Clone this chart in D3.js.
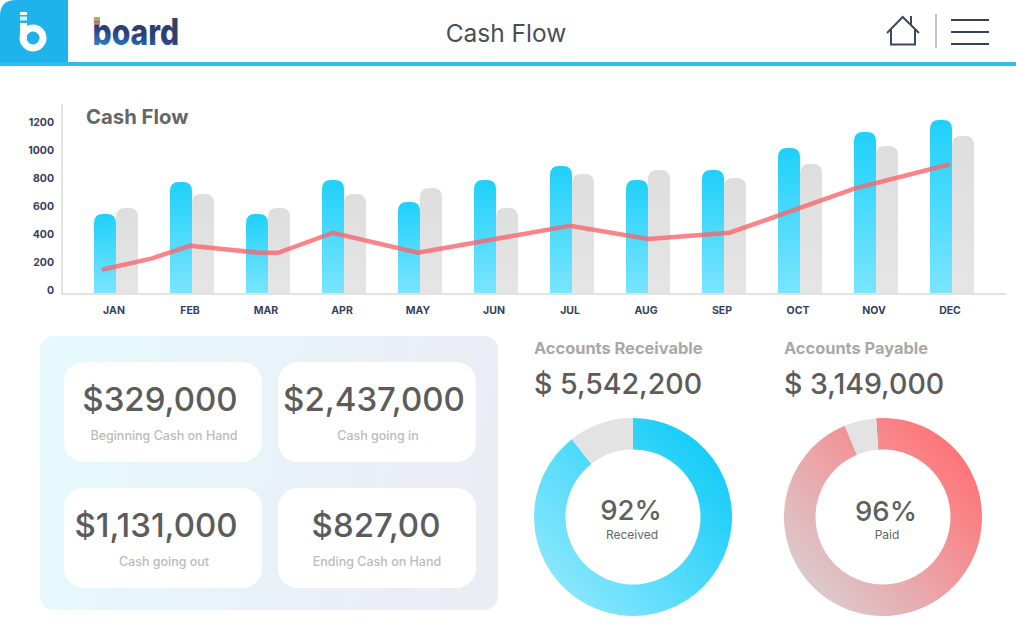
<!DOCTYPE html>
<html>
<head>
<meta charset="utf-8">
<script src="https://cdn.jsdelivr.net/npm/d3@7"></script>
<style>
body {margin:0; background:#fff; overflow:hidden;}
text {font-family:Inter, "Noto Sans", sans-serif;}
</style>
</head>
<body>
<svg id="chart" width="1016" height="636"></svg>
<script>
var months = ["JAN","FEB","MAR","APR","MAY","JUN","JUL","AUG","SEP","OCT","NOV","DEC"]
var cashIn = [543,771,543,786,629,786,886,786,857,1014,1129,1214]
var cashOut = [586,686,586,686,729,586,829,857,800,900,1029,1100]
var yTicks = [0,200,400,600,800,1000,1200]
// line does not sit on the month centres, so it keeps its own month positions
var linePos = [-0.16,0.5,1,1.92,2.16,2.88,4,6,7.03,8.1,9.75,11]
var lineVal = [145,226,316,266,266,409,266,459,364,409,726,898]

var cardValues = ["$329,000","$2,437,000","$1,131,000","$827,00"]
var cardLabels = ["Beginning Cash on Hand","Cash going in","Cash going out","Ending Cash on Hand"]
var cardCols = [0,1,0,1]
var cardRows = [0,0,1,1]
var cardValueShift = [-3,-3,-7,-1]
var cardLabelShift = [1,1,1,0]

var receivedShares = [89.4,10.6]
var paidShares = [94.8,5.2]

var svg = d3.select("#chart")
var defs = svg.append("defs")

var gradient = function(id, x1, y1, x2, y2, c1, c2, units)
{
    defs.append("linearGradient")
        .attr("id", id)
        .attr("gradientUnits", units || "objectBoundingBox")
        .attr("x1", x1).attr("y1", y1).attr("x2", x2).attr("y2", y2)
        .selectAll("stop").data([c1, c2]).enter().append("stop")
        .attr("offset", function(d, i) { return i })
        .attr("stop-color", function(d) { return d })
}
gradient("blueBar", 0, 0, 0, 1, "#1fd0fa", "#7be5fe")
gradient("grayBar", 0, 0, 0, 1, "#dedede", "#e5e5e5")
gradient("panelBg", 0, 0, 1, 0.15, "#e5fafe", "#ececf5")

var logoStops = [[0,"#25b4ea"],[0.3,"#2a6db0"],[0.55,"#2a3f7e"],[1,"#36415c"]]
defs.append("linearGradient").attr("id", "logoFill")
    .attr("x1", 0).attr("y1", 1).attr("x2", 0.32).attr("y2", 0)
    .selectAll("stop").data(logoStops).enter().append("stop")
    .attr("offset", function(d) { return d[0] })
    .attr("stop-color", function(d) { return d[1] })

// ---- header
var drawHeader = function()
{
    svg.append("path")
        .attr("d", "M0,62V16Q0,0,16,0H68V62Z")
        .attr("fill", "#1eb3eb")
    svg.append("rect").attr("x", 0).attr("y", 62).attr("width", 1016).attr("height", 4).attr("fill", "#2dbcef")

    var icon = svg.append("g").attr("fill", "#fff")
    icon.append("rect").attr("x", 20).attr("y", 12).attr("width", 7).attr("height", 3)
    icon.append("rect").attr("x", 20).attr("y", 16.5).attr("width", 7).attr("height", 4).attr("opacity", 0.85)
    icon.append("rect").attr("x", 20).attr("y", 23).attr("width", 7).attr("height", 16)
    icon.append("circle").attr("cx", 33).attr("cy", 38).attr("r", 10)
        .attr("fill", "none").attr("stroke", "#fff").attr("stroke-width", 7)

    svg.append("text").attr("transform", "translate(92.5,45) scale(1,1.22)")
        .attr("font-size", 30).attr("font-weight", 800).attr("fill", "url(#logoFill)")
        .text("board")
    var stripes = ["#7cc576","#f5a623","#ef5a5a","#9aa0b0"]
    svg.append("g").selectAll("rect").data(stripes).enter().append("rect")
        .attr("x", 94).attr("width", 6).attr("height", 1.9)
        .attr("y", function(d, i) { return 17 + i * 1.9 })
        .attr("fill", function(d) { return d })

    svg.append("text").attr("x", 506).attr("y", 42).attr("text-anchor", "middle")
        .attr("font-size", 24.5).attr("fill", "#4a4f58").text("Cash Flow")

    svg.append("path")
        .attr("d", "M887,33L902.7,17L919,33M891,29V44.5H915V29M911,25V16")
        .attr("fill", "none").attr("stroke", "#3b4a63").attr("stroke-width", 2)
    svg.append("line").attr("x1", 936).attr("x2", 936).attr("y1", 14).attr("y2", 48)
        .attr("stroke", "#c8c8c8").attr("stroke-width", 2)
    svg.append("g").selectAll("line").data([20,32,44]).enter().append("line")
        .attr("x1", 951).attr("x2", 989)
        .attr("y1", function(d) { return d }).attr("y2", function(d) { return d })
        .attr("stroke", "#36415c").attr("stroke-width", 2)
}

// ---- bar + line chart
var drawCashFlow = function()
{
    var baseline = 294
    var xScale = d3.scaleBand().domain(months).range([78, 990])
    var inner = d3.scaleBand().domain(["in","out"]).range([16, 60])
    var yScale = d3.scaleLinear().domain([0, 1200]).range([290, 122])
    var posScale = d3.scaleLinear().domain([0, 11]).range([114, 950])

    var barPath = function(x, w, top)
    {
        var r = 9
        var p = d3.path()
        p.moveTo(x, baseline)
        p.lineTo(x, top + r)
        p.quadraticCurveTo(x, top, x + r, top)
        p.lineTo(x + w - r, top)
        p.quadraticCurveTo(x + w, top, x + w, top + r)
        p.lineTo(x + w, baseline)
        p.closePath()
        return p.toString()
    }

    var series = [
        {key:"in", values:cashIn, fill:"url(#blueBar)"},
        {key:"out", values:cashOut, fill:"url(#grayBar)"}
    ]
    series.forEach(function(s)
    {
        svg.append("g").selectAll("path").data(s.values).enter().append("path")
            .attr("d", function(d, i) { return barPath(xScale(months[i]) + inner(s.key), inner.bandwidth(), yScale(d)) })
            .attr("fill", s.fill)
    })

    svg.append("line").attr("x1", 62).attr("x2", 62).attr("y1", 104).attr("y2", baseline)
        .attr("stroke", "#e2e2e2").attr("stroke-width", 2)
    svg.append("line").attr("x1", 61).attr("x2", 1006).attr("y1", baseline).attr("y2", baseline)
        .attr("stroke", "#e2e2e2").attr("stroke-width", 2)

    var yAxis = d3.axisLeft(yScale).tickValues(yTicks).tickFormat(d3.format("d")).tickSize(0).tickPadding(0)
    var gy = svg.append("g").attr("transform", "translate(54,0)").call(yAxis)
    var xAxis = d3.axisBottom(xScale).tickSize(0).tickPadding(0)
    var gx = svg.append("g").attr("transform", "translate(-2,307)").call(xAxis)
    ;[gy, gx].forEach(function(g)
    {
        g.select(".domain").remove()
        g.selectAll("text")
            .style("font-family", "Inter, sans-serif").attr("font-size", 10.5).attr("font-weight", 700)
            .attr("fill", "#36415c")
    })

    var line = d3.line()
        .x(function(d, i) { return posScale(linePos[i]) })
        .y(function(d) { return yScale(d) })
    svg.append("path").datum(lineVal).attr("d", line)
        .attr("fill", "none").attr("stroke", "#f9656d").attr("stroke-width", 4.5).attr("opacity", 0.8)

    svg.append("text").attr("x", 86).attr("y", 124)
        .attr("font-size", 20.3).attr("font-weight", 700).attr("fill", "#666").text("Cash Flow")
}

// ---- kpi panel
var drawCards = function()
{
    svg.append("rect").attr("x", 40).attr("y", 336).attr("width", 458).attr("height", 274)
        .attr("rx", 14).attr("fill", "url(#panelBg)")
    var cards = svg.append("g").selectAll("g").data(cardValues).enter().append("g")
        .attr("transform", function(d, i) { return "translate(" + (64 + cardCols[i] * 214) + "," + (362 + cardRows[i] * 126) + ")" })
    cards.append("rect").attr("width", 198).attr("height", 100).attr("rx", 20).attr("fill", "#fff")
    cards.append("text")
        .attr("x", function(d, i) { return 99 + cardValueShift[i] }).attr("y", 49)
        .attr("text-anchor", "middle").attr("font-size", 33).attr("font-weight", 500).attr("fill", "#5c5c5c")
        .text(function(d) { return d })
    cards.append("text")
        .attr("x", function(d, i) { return 99 + cardLabelShift[i] }).attr("y", 78)
        .attr("text-anchor", "middle").attr("font-size", 12.5).attr("font-weight", 500).attr("fill", "#bbb")
        .text(function(d, i) { return cardLabels[i] })
}

// ---- donuts
var drawDonut = function(opt)
{
    var cx = opt.cx, cy = 517, R = 99
    var id = opt.id + "Grad"
    gradient(id, 80, -60, -80, 80, opt.from, opt.to, "userSpaceOnUse")

    var pie = d3.pie().sort(null)
        .startAngle(opt.start)
        .endAngle(opt.start + 2 * Math.PI)
    var arc = d3.arc().innerRadius(67.5).outerRadius(R)
    svg.append("g").selectAll("path").data(pie(opt.shares)).enter().append("path")
        .attr("transform", "translate(" + cx + "," + cy + ")")
        .attr("d", arc)
        .attr("fill", function(d, i) { return i == 0 ? "url(#" + id + ")" : "#e3e3e3" })

    svg.append("text").attr("x", opt.x).attr("y", 354)
        .attr("font-size", 16.4).attr("font-weight", 700).attr("fill", "#a8a8a8").text(opt.title)
    svg.append("text").attr("x", opt.x).attr("y", 394)
        .attr("font-size", 28.5).attr("font-weight", 500).attr("fill", "#5c5c5c").text(opt.amount)
    svg.append("text").attr("x", opt.pctX).attr("y", opt.pctY).attr("text-anchor", "middle")
        .attr("font-size", 27.5).attr("font-weight", 500).attr("fill", "#5f5f5f").text(opt.pct)
    svg.append("text").attr("x", opt.pctX + 1).attr("y", 538.5).attr("text-anchor", "middle")
        .attr("font-size", 12).attr("fill", "#666").text(opt.caption)
}

drawHeader()
drawCashFlow()
drawCards()
drawDonut({id:"recv", cx:633, x:534, shares:receivedShares, start:0, from:"#17cdf8", to:"#8fe8fd",
    title:"Accounts Receivable", amount:"$ 5,542,200", pct:"92%", caption:"Received", pctX:631, pctY:520})
drawDonut({id:"paid", cx:883, x:784, shares:paidShares, start:-4 * Math.PI / 180, from:"#ff7478", to:"#d9cfd2",
    title:"Accounts Payable", amount:"$ 3,149,000", pct:"96%", caption:"Paid", pctX:886, pctY:521})
</script>
</body>
</html>
